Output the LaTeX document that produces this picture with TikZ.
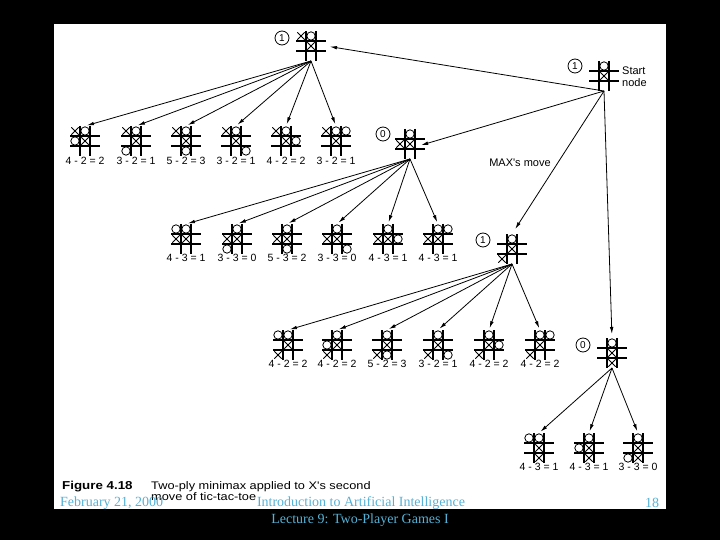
\documentclass[tikz,border=0pt]{standalone}
\usepackage{fontspec}
\setmainfont{Liberation Serif}
\newfontfamily\capfont{Liberation Sans}
\newfontfamily\capwide{Liberation Sans}[FakeStretch=1.16]
\usetikzlibrary{arrows.meta,calc}
\definecolor{footblue}{RGB}{85,178,214}
\tikzset{
  boardbox/.style={draw=none,minimum width=30pt,minimum height=30pt,inner sep=0pt,outer sep=0pt},
  gridline/.style={line width=1.1pt,black},
  markline/.style={line width=0.8pt,black},
  tarrow/.style={line width=0.8pt,-{Latex[length=7pt,width=3.6pt]},shorten >=2pt},
  score/.style={font=\capfont\fontsize{10.5}{12}\selectfont,inner sep=0pt},
  lbl/.style={font=\capfont\fontsize{11}{12}\selectfont,inner sep=0pt},
  valcircle/.style={circle,draw,line width=0.8pt,minimum size=14pt,inner sep=0pt,font=\capfont\fontsize{10}{11}\selectfont},
  captxt/.style={font=\capwide\fontsize{11}{12}\selectfont,inner sep=0pt,anchor=west},
  footer/.style={font=\fontsize{14}{16}\selectfont,text=footblue,inner sep=0pt},
}
\newcommand\tttboard[4]{%
  \node[boardbox] (#1) at (#2) {};
  \begin{scope}[shift={(#1.center)}]
    \draw[gridline] (-15,-5)--(15,-5) (-15,5)--(15,5) (-5,-15)--(-5,15) (5,-15)--(5,15);
    \foreach \c in {#3}{%
      \pgfmathsetmacro\cx{10*(mod(\c-1,3)-1)}%
      \pgfmathsetmacro\cy{10*(int((\c-1)/3)-1)}%
      \draw[markline] (\cx-3.7,\cy-3.7)--(\cx+3.7,\cy+3.7) (\cx-3.7,\cy+3.7)--(\cx+3.7,\cy-3.7);}
    \foreach \c in {#4}{%
      \pgfmathsetmacro\cx{10*(mod(\c-1,3)-1)}%
      \pgfmathsetmacro\cy{10*(int((\c-1)/3)-1)}%
      \draw[markline] (\cx,\cy) circle[radius=4.2];}
  \end{scope}}
\begin{document}
\begin{tikzpicture}[x=1pt,y=-1pt]
\useasboundingbox (0,0) rectangle (720,540);
\fill[black] (0,0) rectangle (720,540);
\fill[white] (54,24) rectangle (666,509);

% main boards
\tttboard{start}{604,76}{5}{2}
\tttboard{A}{311,46}{1,5}{2}
\tttboard{B}{410,144}{4,5}{2}
\tttboard{C}{512,249}{5,7}{2}
\tttboard{D}{612,353}{5,8}{2}

\node[valcircle] (vs) at (575,66) {1};
\node[valcircle] (vA) at (282,38) {1};
\node[valcircle] (vB) at (383,134) {0};
\node[valcircle] (vC) at (483,240) {1};
\node[valcircle] (vD) at (583,345) {0};

\node[lbl,anchor=west] (st1) at (622,71) {Start};
\node[lbl,anchor=west] (st2) at (622,83) {node};
\node[lbl] (maxm) at (520,163) {MAX's move};

\draw[tarrow,shorten >=4pt] (start.south) -- (A.east);
\draw[tarrow,shorten >=-4pt] (start.south) -- (B.east);
\draw[tarrow,shorten >=6pt] (start.south) -- (C.north);
\draw[tarrow,shorten >=4pt] (start.south) -- (D.north);

% row 1
\tttboard{a1}{85,141}{1,5}{2,4}
\tttboard{a2}{136,141}{1,5}{2,7}
\tttboard{a3}{186,141}{1,5}{2,8}
\tttboard{a4}{236,141}{1,5}{2,9}
\tttboard{a5}{286,141}{1,5}{2,6}
\tttboard{a6}{336,141}{1,5}{2,3}
\node[score] (la1) at (85,161) {4 - 2 = 2};
\node[score] (la2) at (136,161) {3 - 2 = 1};
\node[score] (la3) at (186,161) {5 - 2 = 3};
\node[score] (la4) at (236,161) {3 - 2 = 1};
\node[score] (la5) at (286,161) {4 - 2 = 2};
\node[score] (la6) at (336,161) {3 - 2 = 1};
\foreach \k in {1,...,6} \draw[tarrow] (A.south) -- (a\k.north);

% row 2
\tttboard{b1}{186,239}{4,5}{1,2}
\tttboard{b2}{237,239}{4,5}{2,7}
\tttboard{b3}{287,239}{4,5}{2,8}
\tttboard{b4}{337,239}{4,5}{2,9}
\tttboard{b5}{388,239}{4,5}{2,6}
\tttboard{b6}{438,239}{4,5}{2,3}
\node[score] (lb1) at (186,258) {4 - 3 = 1};
\node[score] (lb2) at (237,258) {3 - 3 = 0};
\node[score] (lb3) at (287,258) {5 - 3 = 2};
\node[score] (lb4) at (337,258) {3 - 3 = 0};
\node[score] (lb5) at (388,258) {4 - 3 = 1};
\node[score] (lb6) at (438,258) {4 - 3 = 1};
\foreach \k in {1,...,6} \draw[tarrow] (B.south) -- (b\k.north);

% row 3
\tttboard{c1}{288,345}{5,7}{1,2}
\tttboard{c2}{337,345}{5,7}{2,4}
\tttboard{c3}{387,345}{5,7}{2,8}
\tttboard{c4}{438,345}{5,7}{2,9}
\tttboard{c5}{489,345}{5,7}{2,6}
\tttboard{c6}{540,345}{5,7}{2,3}
\node[score] (lc1) at (288,364) {4 - 2 = 2};
\node[score] (lc2) at (337,364) {4 - 2 = 2};
\node[score] (lc3) at (387,364) {5 - 2 = 3};
\node[score] (lc4) at (438,364) {3 - 2 = 1};
\node[score] (lc5) at (489,364) {4 - 2 = 2};
\node[score] (lc6) at (540,364) {4 - 2 = 2};
\foreach \k in {1,...,6} \draw[tarrow] (C.south) -- (c\k.north);

% row 4
\tttboard{d1}{539,448}{5,8}{1,2}
\tttboard{d2}{589,448}{5,8}{2,4}
\tttboard{d3}{638,448}{5,8}{2,7}
\node[score] (ld1) at (539,467) {4 - 3 = 1};
\node[score] (ld2) at (589,467) {4 - 3 = 1};
\node[score] (ld3) at (638,467) {3 - 3 = 0};
\foreach \k in {1,2,3} \draw[tarrow] (D.south) -- (d\k.north);

% caption
\node[captxt,font=\capwide\bfseries\fontsize{11.5}{12}\selectfont] (fig) at (62,487) {Figure 4.18};
\node[captxt] (cap1) at (151,487) {Two-ply minimax applied to X's second};
\node[captxt] (cap2) at (151,497) {move of tic-tac-toe};

% footer
\node[footer,anchor=west] (date) at (60,503) {February 21, 2000};
\node[footer] (title) at (361,503) {Introduction to Artificial Intelligence};
\node[footer] (lect) at (360,520) {Lecture 9: Two-Player Games I};
\node[footer] (pg) at (652,503) {18};
\end{tikzpicture}
\end{document}
